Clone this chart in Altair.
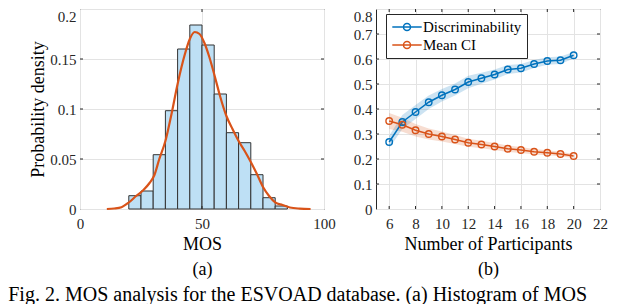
import altair as alt
import pandas as pd

FONT = "Liberation Serif"
BLUE = "#0072BD"
ORANGE = "#D95319"
INK = "#262626"

# ---------- (a) histogram of MOS ----------
bin_start = [20, 25, 30, 35, 40, 45, 50, 55, 60, 65, 70, 75, 80]
bin_width = 5
bin_density = [0.0133, 0.018, 0.0543, 0.0983, 0.160, 0.184, 0.164, 0.115,
               0.0763, 0.0663, 0.0343, 0.0113, 0.003]

kde_mos = [11, 14, 17, 20, 23, 26, 28.5, 30.5, 32.5, 35, 37.5, 40, 43, 45, 47,
           49, 51, 53, 55.2, 57.5, 60, 62.5, 65, 67.5, 70, 72.5, 75, 77.5, 80,
           83, 86, 90, 94.5]
kde_density = [0.0, 0.0005, 0.0018, 0.0065, 0.013, 0.019, 0.026, 0.034, 0.050,
               0.068, 0.095, 0.125, 0.155, 0.170, 0.177, 0.175, 0.166, 0.152,
               0.133, 0.112, 0.093, 0.080, 0.068, 0.058, 0.047, 0.035, 0.022,
               0.013, 0.0067, 0.004, 0.0015, 0.0004, 0.0]

mos_ticks = [0, 50, 100]
density_ticks = [0, 0.05, 0.1, 0.15, 0.2]

# ---------- (b) participants ----------
participants = list(range(6, 21))
discriminability = [0.268, 0.348, 0.388, 0.427, 0.455, 0.478, 0.508, 0.523,
                    0.538, 0.558, 0.563, 0.580, 0.592, 0.595, 0.615]
disc_spread = [0.025, 0.028, 0.028, 0.027, 0.025, 0.024, 0.025, 0.022, 0.020,
               0.018, 0.017, 0.016, 0.015, 0.015, 0.013]
mean_ci = [0.352, 0.337, 0.315, 0.300, 0.290, 0.278, 0.265, 0.258, 0.250,
           0.241, 0.236, 0.229, 0.225, 0.220, 0.212]
ci_spread = [0.032, 0.028, 0.025, 0.022, 0.020, 0.018, 0.016, 0.015, 0.014,
             0.013, 0.012, 0.011, 0.010, 0.009, 0.008]
series_names = ["Discriminability", "Mean CI"]
part_ticks = [6, 8, 10, 12, 14, 16, 18, 20, 22]
value_ticks = [0, 0.1, 0.2, 0.3, 0.4, 0.5, 0.6, 0.7, 0.8]

caption = "Fig. 2.  MOS analysis for the ESVOAD database. (a) Histogram of MOS"

# ---------- tables ----------
hist_df = pd.DataFrame({
    "start": bin_start,
    "end": [s + bin_width for s in bin_start],
    "density": bin_density,
    "base": [0] * len(bin_start),
})
kde_df = pd.DataFrame({"mos": kde_mos, "density": kde_density})

rows = []
for name, vals, spr in [(series_names[0], discriminability, disc_spread),
                        (series_names[1], mean_ci, ci_spread)]:
    for p, v, s in zip(participants, vals, spr):
        rows.append({"n": p, "value": v, "lo": v - s, "hi": v + s, "series": name})
part_df = pd.DataFrame(rows)

W1, W2, H = 244, 224, 200


def top_label_baseline(top_value):
    return {"condition": {"test": f"datum.value >= {top_value}", "value": "top"},
            "value": "middle"}


# ---------- panel (a) ----------
xa = alt.Scale(domain=[0, 100], nice=False)
ya = alt.Scale(domain=[0, 0.2], nice=False)

hist = alt.Chart(hist_df).mark_bar(
    fill="#BEE0F5", stroke="#333333", strokeWidth=1
).encode(
    x=alt.X("start:Q", scale=xa,
            axis=alt.Axis(values=mos_ticks, tickCount=len(mos_ticks),
                          title=["MOS", "(a)"])),
    x2="end:Q",
    y=alt.Y("density:Q", scale=ya,
            axis=alt.Axis(values=density_ticks, tickCount=len(density_ticks),
                          format="~g", title="Probability density",
                          labelBaseline=top_label_baseline(0.2))),
    y2="base:Q",
)

kde = alt.Chart(kde_df).mark_line(
    color=ORANGE, strokeWidth=2.2, interpolate="monotone"
).encode(
    x=alt.X("mos:Q", scale=xa),
    y=alt.Y("density:Q", scale=ya),
)

ya_ticks_df = pd.DataFrame({"v": density_ticks[1:-1]})
xa_ticks_df = pd.DataFrame({"v": mos_ticks[1:-1]})
tk = dict(color=INK, strokeWidth=1)
a_ticks = [
    alt.Chart(ya_ticks_df).mark_rule(**tk).encode(
        y=alt.Y("v:Q", scale=ya), x=alt.value(0), x2=alt.value(3)),
    alt.Chart(ya_ticks_df).mark_rule(**tk).encode(
        y=alt.Y("v:Q", scale=ya), x=alt.value(W1 - 3), x2=alt.value(W1)),
    alt.Chart(xa_ticks_df).mark_rule(**tk).encode(
        x=alt.X("v:Q", scale=xa), y=alt.value(H - 3), y2=alt.value(H)),
    alt.Chart(xa_ticks_df).mark_rule(**tk).encode(
        x=alt.X("v:Q", scale=xa), y=alt.value(0), y2=alt.value(3)),
]

panel_a = alt.layer(hist, kde, *a_ticks).properties(width=W1, height=H)

# ---------- panel (b) ----------
xb = alt.Scale(domain=[5, 22], nice=False)
yb = alt.Scale(domain=[0, 0.8], nice=False)
color_scale = alt.Scale(domain=series_names, range=[BLUE, ORANGE])

# line with a hollow circle, in symbol units (symbolSize 196 -> 7 px per unit)
LEG_SYMBOL = ("M-2.1,0H2.1M0.5,0A0.5,0.5 0 1,1 -0.5,0"
              "A0.5,0.5 0 1,1 0.5,0Z")

bands = [
    alt.Chart(part_df).transform_filter(alt.datum.series == name).mark_area(
        color=col, opacity=0.2
    ).encode(
        x=alt.X("n:Q", scale=xb),
        y=alt.Y("lo:Q", scale=yb),
        y2="hi:Q",
    )
    for name, col in zip(series_names, [BLUE, ORANGE])
]

lines = alt.Chart(part_df).mark_line(
    strokeWidth=1.5,
    point=alt.OverlayMarkDef(filled=False, size=42, strokeWidth=1.4),
).encode(
    x=alt.X("n:Q", scale=xb,
            axis=alt.Axis(values=part_ticks, tickCount=len(part_ticks), grid=True,
                          title=["Number of Participants", "(b)"])),
    y=alt.Y("value:Q", scale=yb,
            axis=alt.Axis(values=value_ticks, tickCount=len(value_ticks),
                          format="~g", grid=True, title=None,
                          labelBaseline=top_label_baseline(0.8))),
    color=alt.Color("series:N", scale=color_scale, sort=series_names,
                    legend=alt.Legend(
                        title=None, orient="none", legendX=10, legendY=5,
                        symbolType=LEG_SYMBOL, symbolSize=196,
                        symbolOffset=8, labelOffset=8,
                        symbolStrokeWidth=1.5, symbolFillColor="transparent",
                        labelFont=FONT, labelFontSize=15, labelColor="black",
                        padding=5, rowPadding=2,
                        strokeColor=INK, fillColor="white", cornerRadius=0)),
    order="n:Q",
)

yb_ticks_df = pd.DataFrame({"v": value_ticks[1:-1]})
xb_ticks_df = pd.DataFrame({"v": part_ticks[:-1]})
b_ticks = [
    alt.Chart(yb_ticks_df).mark_rule(**tk).encode(
        y=alt.Y("v:Q", scale=yb), x=alt.value(0), x2=alt.value(3)),
    alt.Chart(yb_ticks_df).mark_rule(**tk).encode(
        y=alt.Y("v:Q", scale=yb), x=alt.value(W2 - 3), x2=alt.value(W2)),
    alt.Chart(xb_ticks_df).mark_rule(**tk).encode(
        x=alt.X("v:Q", scale=xb), y=alt.value(H - 3), y2=alt.value(H)),
    alt.Chart(xb_ticks_df).mark_rule(**tk).encode(
        x=alt.X("v:Q", scale=xb), y=alt.value(0), y2=alt.value(3)),
]

panel_b = alt.layer(*bands, lines, *b_ticks).properties(width=W2, height=H)

chart = alt.hconcat(panel_a, panel_b, spacing=52, bounds="flush").resolve_legend(
    color="independent"
).resolve_scale(
    color="independent"
).properties(
    title=alt.TitleParams(caption, orient="bottom", anchor="start", dx=-21,
                          offset=6, font=FONT, fontSize=20, fontWeight="normal",
                          color="black"),
    padding={"left": 0, "top": 0, "right": 0, "bottom": 0},
).configure_view(
    stroke=INK, strokeWidth=1
).configure_axis(
    labelFont=FONT, labelFontSize=15, labelColor=INK,
    titleFont=FONT, titleFontSize=18, titleFontWeight="normal", titleColor="black",
    titleLineHeight=25,
    domain=False, ticks=False, labelFlush=False, labelOverlap=False,
    gridColor="#e3e3e3", gridWidth=1,
).configure_axisX(
    labelPadding=7, titlePadding=4,
).configure_axisY(
    labelPadding=4, titlePadding=2,
)

chart.save("out.html", embed_options={"renderer": "svg", "actions": False})
